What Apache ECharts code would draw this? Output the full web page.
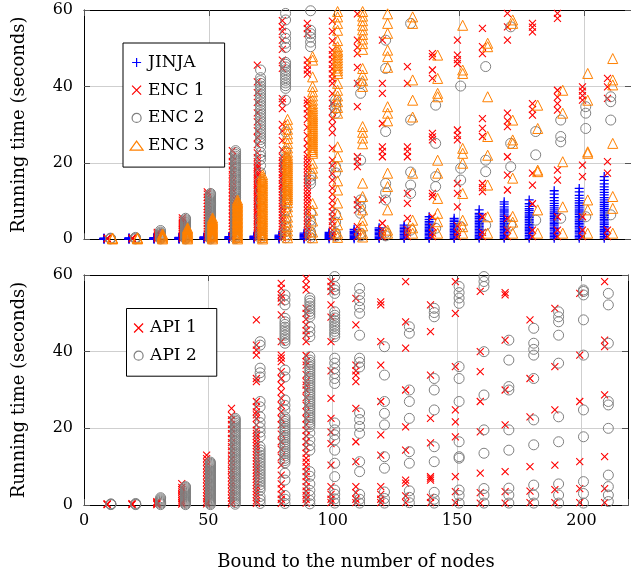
<!DOCTYPE html>
<html><head><meta charset="utf-8">
<script src="https://cdn.jsdelivr.net/npm/echarts@6/dist/echarts.min.js"></script>
<style>html,body{margin:0;padding:0;background:#fff}#c{width:631px;height:576px}</style>
</head><body><div id="c"></div>
<script>
const bounds = [10,20,30,40,50,60,70,80,90,100,110,120,130,140,150,160,170,180,190,200,210];
const xTicks = [0,50,100,150,200];
const yTicks = [0,20,40,60];

const JINJA = [
[0.05,0.1,0.15,0.2,0.25,0.3],
[0.05,0.1,0.15,0.2,0.25,0.3,0.35],
[0.05,0.1,0.2,0.25,0.3,0.35,0.4],
[0.05,0.1,0.2,0.3,0.35,0.4,0.5],
[0.1,0.2,0.3,0.4,0.5,0.6],
[0.1,0.2,0.3,0.45,0.6,0.7],
[0.1,0.25,0.4,0.55,0.7,0.85],
[0.1,0.3,0.5,0.7,0.9,1.1],
[0.1,0.3,0.55,0.8,1.05,1.3,1.6],
[0.15,0.4,0.7,0.95,1.2,1.5,1.8],
[0.15,0.45,0.8,1.1,1.45,1.8,2.1,2.6],
[0.2,0.5,0.85,1.2,1.55,1.9,2.3,2.6,3.0],
[0.2,0.55,0.9,1.3,1.7,2.05,2.4,2.8,3.2,3.7],
[0.2,0.5,0.9,1.25,1.6,2.0,2.35,2.7,3.1,3.5,3.9,4.3,4.7,5.2,5.9],
[0.2,0.55,0.9,1.3,1.7,2.1,2.5,2.9,3.3,3.7,4.1,4.6,5.0,5.5],
[0.25,0.6,1.0,1.4,1.8,2.2,2.6,3.0,3.4,3.8,4.2,4.6,5.0,5.5,5.9,6.4,6.8,7.7],
[0.25,0.6,1.0,1.4,1.8,2.2,2.6,3.0,3.4,3.8,4.2,4.7,5.1,5.5,6.0,6.4,6.9,7.4,7.9,8.5,9.2,9.8],
[0.25,0.65,1.05,1.5,1.9,2.3,2.7,3.1,3.5,3.9,4.4,4.8,5.2,5.7,6.1,6.6,7.0,7.5,8.0,8.6,9.3,10.3],
[0.3,0.7,1.1,1.5,1.9,2.4,2.8,3.2,3.7,4.1,4.5,5.0,5.4,5.9,6.3,6.8,7.2,7.7,8.2,8.8,9.4,10.1,10.9,11.8,12.7],
[0.3,0.7,1.1,1.6,2.0,2.4,2.9,3.3,3.8,4.2,4.7,5.1,5.6,6.0,6.5,6.9,7.4,7.9,8.4,8.9,9.5,10.1,10.8,11.5,12.4,13.3],
[0.3,0.7,1.2,1.6,2.1,2.5,3.0,3.4,3.9,4.3,4.8,5.2,5.7,6.2,6.6,7.1,7.6,8.1,8.6,9.1,9.7,10.3,10.9,11.6,12.3,13.0,13.7,14.5,15.4,16.4]
];

const ENC1 = [
[0.1,0.2,0.3],
[0.1,0.25,0.4],
[0.1,0.4,0.7,1.0,1.4,1.8],
[0.2,0.6,1.0,1.5,2.0,2.5,3.0,3.5,4.0,4.5,5.0,5.6],
[0.2,0.8,1.4,2.1,2.8,3.5,4.2,4.9,5.6,6.3,7.0,7.8,8.6,9.4,10.2,11.0,11.8,12.4],
[0.3,1.0,1.8,2.6,3.4,4.2,5.0,5.9,6.8,7.7,8.6,9.5,10.4,11.3,12.2,13.1,14.0,15.0,16.0,17.0,18.1,19.2,20.4,21.6,23.2],
[0.3,0.9,1.5,2.2,2.7,3.3,3.9,4.6,5.1,5.7,6.4,6.9,7.5,8.2,8.7,9.3,9.9,10.6,11.1,11.7,12.4,12.9,13.5,14.2,14.7,15.3,15.9,16.6,17.1,17.7,18.4,18.9,19.5,20.3,21.4,22.6,24.8,26.6,28.4,30.7,33.1,35.8,38.4,41.2,45.6],
[0.4,1.1,1.9,2.6,3.4,4.1,4.9,5.6,6.4,7.1,7.9,8.6,9.4,10.1,10.9,11.6,12.4,13.1,13.9,14.6,15.4,16.1,16.9,17.6,18.4,19.1,19.9,20.6,21.5,23.4,25.8,28.3,30.1,34.2,35.9,36.8,44.7,46.9,49.7,52.1,54.4,55.6,57.2],
[0.4,1.3,2.2,3.1,4.0,4.9,5.8,6.7,7.6,8.5,9.4,10.3,11.2,12.1,13.0,13.9,14.8,15.7,16.6,17.5,18.4,19.3,20.2,21.1,22.0,23.6,25.2,27.1,29.3,31.4,32.9,34.1,35.6,36.4,43.2,44.3,45.6,46.9,53.8,55.1,56.5],
[0.5,1.4,2.4,3.5,4.6,5.9,7.2,8.6,10.1,11.8,13.4,15.5,17.2,19.3,20.7,23.8,27.9,29.8,31.6,33.4,35.6,38.1,40.8,42.0,43.3,44.6,45.8,47.1,48.3,49.5,51.9,54.4,57.1],
[0.7,1.9,3.3,7.7,9.1,10.3,19.0,20.4,21.6,34.7,40.8,45.0,48.6,50.2,52.1,59.0],
[0.6,1.6,2.5,4.2,10.3,21.6,23.0,24.2,30.3,38.2,40.8,52.1],
[0.7,1.7,2.6,5.5,9.4,12.0,21.6,23.0,24.2,40.8,45.2],
[0.7,1.6,3.3,5.9,11.2,12.0,26.0,26.8,27.7,42.1,44.3,47.8,48.6],
[0.7,1.8,3.5,8.5,12.0,14.6,26.0,27.2,28.6,46.0,47.0,48.2,52.1],
[0.7,1.8,5.9,12.5,13.5,14.6,26.9,29.0,31.6,48.6,50.4,55.2],
[0.7,2.4,5.5,12.9,16.8,21.6,29.5,31.0,33.0,52.1,55.6,59.1],
[0.7,2.4,9.3,14.2,17.3,32.5,34.0,35.5,54.3,55.5,56.5],
[0.7,2.4,5.9,15.5,18.1,33.8,35.5,37.2,39.0,57.8,59.1],
[0.7,2.4,5.9,16.4,19.4,36.4,37.6,38.8,39.9],
[0.7,2.4,17.3,20.3,36.9,39.9,42.1]
];

const ENC2 = [
[0.1,0.2,0.3],
[0.1,0.3,0.5],
[0.1,0.4,0.7,1.0,1.3,1.6,1.9,2.3],
[0.1,0.35,0.6,0.9,1.2,1.45,1.75,2.0,2.3,2.6,2.85,3.15,3.4,3.7,4.0,4.3,4.55,4.85,5.15,5.5],
[0.1,0.4,0.7,0.95,1.25,1.55,1.85,2.1,2.4,2.7,3.0,3.3,3.55,3.85,4.15,4.45,4.75,5.0,5.3,5.6,5.9,6.2,6.45,6.75,7.05,7.35,7.65,7.9,8.2,8.5,8.8,9.1,9.35,9.65,9.95,10.25,10.55,10.8,11.1,11.4,11.7,12.0],
[0.2,0.6,1.05,1.5,1.95,2.4,2.85,3.3,3.75,4.2,4.65,5.1,5.55,6.0,6.45,6.9,7.35,7.8,8.25,8.7,9.15,9.6,10.05,10.5,10.95,11.4,11.85,12.3,12.75,13.2,13.65,14.1,14.55,15.0,15.45,15.9,16.35,16.8,17.25,17.7,18.15,18.6,19.05,19.5,19.95,20.4,20.85,21.3,21.75,22.2,22.7,23.2],
[0.3,0.9,1.6,3.0,4.4,5.9,8.6,10.4,12.8,15.1,17.4,19.3,20.9,21.8,22.7,24.2,25.3,26.1,26.8,27.5,28.2,28.9,29.6,30.3,31.0,31.7,32.4,33.1,33.8,34.5,35.2,35.9,36.6,37.3,38.0,38.7,39.4,40.1,40.8,41.5,42.3,44.3],
[0.4,1.2,2.0,3.5,5.2,7.4,9.4,10.3,11.5,12.6,15.4,18.3,19.9,21.2,23.0,28.1,36.4,39.5,40.2,40.9,41.6,42.3,43.0,43.7,44.4,45.1,45.8,46.3,50.2,51.3,52.6,53.9,57.4,59.1],
[0.4,1.1,1.9,3.6,5.0,6.8,14.6,15.5,16.5,50.4,51.6,52.9,53.8,54.7,59.8],
[0.8,1.6,4.5,6.5,17.4,19.0,33.0,34.2,35.4,36.4],
[0.9,1.6,6.8,8.5,10.3,20.7,38.2,40.8],
[0.9,1.8,10.3,12.2,14.6,28.2,44.7,52.1],
[2.4,12.0,14.2,17.6,31.2,56.5],
[2.9,13.8,16.4,25.1,35.1],
[3.3,15.5,18.6,40.1],
[3.7,17.7,20.7,45.2],
[3.7,19.0,25.1,55.6],
[5.0,22.1,28.2],
[5.5,25.5,26.9,31.2],
[5.9,29.0,33.0,34.7],
[6.4,31.2,36.0,37.3]
];

const ENC3 = [
[0.1,0.2,0.35],
[0.1,0.25,0.4],
[0.1,0.35,0.6,0.85,1.1,1.4],
[0.1,0.35,0.6,0.85,1.1,1.35,1.6,1.85,2.1,2.4,2.7,3.0],
[0.1,0.4,0.7,1.0,1.3,1.6,1.9,2.2,2.5,2.8,3.1,3.4,3.7,4.0,4.3,4.6,4.9,5.2,5.6],
[0.1,0.45,0.8,1.15,1.5,1.85,2.2,2.55,2.9,3.25,3.6,3.95,4.3,4.65,5.0,5.35,5.7,6.05,6.4,6.75,7.1,7.45,7.8,8.15,8.5,8.85,9.2,9.55,9.9,10.3],
[0.1,0.5,0.95,1.4,1.85,2.3,2.75,3.2,3.65,4.1,4.55,5.0,5.45,5.9,6.35,6.8,7.25,7.7,8.15,8.6,9.05,9.5,9.95,10.4,10.85,11.3,11.75,12.2,12.65,13.1,13.55,14.0,14.45,14.9,15.35,15.8,16.3,16.9],
[0.4,1.2,2.2,3.3,4.5,5.8,7.2,8.5,9.6,10.4,10.9,11.4,11.9,12.4,12.9,13.4,13.9,14.4,14.9,15.4,15.9,16.4,16.9,17.4,17.9,18.4,18.9,19.4,19.9,20.4,20.9,21.4,22.0,22.8,23.9,25.1,26.4,27.6,28.8,30.1,31.4],
[0.4,1.9,4.8,7.6,9.4,17.3,18.6,19.9,22.5,23.0,23.5,24.0,24.5,25.0,25.5,26.0,26.5,27.0,27.5,28.0,28.5,29.0,29.5,30.0,30.5,31.0,31.5,32.0,32.5,33.0,33.6,34.2,34.8,35.5,36.4,37.5,38.6,40.0,42.5,46.9,47.8],
[0.5,1.6,3.8,6.5,9.5,12.9,15.3,19.0,21.6,24.2,33.0,34.5,36.0,37.5,39.0,40.8,43.4,44.1,44.8,45.5,46.2,46.9,47.6,48.3,49.0,49.5,50.4,52.0,54.7,56.5,58.2,59.6],
[0.6,1.6,3.5,5.0,7.7,11.2,14.7,25.0,26.5,28.0,29.5,40.0,41.5,43.0,44.7,49.7,51.2,52.4,53.6,54.8,56.0,57.2,58.4,59.6],
[1.6,2.4,7.7,13.8,17.3,31.0,33.0,34.7,45.0,47.8,49.5,53.9,56.5,59.0],
[1.6,3.0,5.0,17.3,32.0,36.4,41.7,56.5,58.2],
[1.6,4.6,6.8,10.7,17.3,20.7,37.3,38.2,42.1,48.2],
[1.6,3.3,5.0,12.0,19.9,22.5,23.8,43.4,44.3,56.0],
[1.6,5.9,14.2,22.0,26.9,37.3,50.4,51.3],
[1.6,4.5,6.0,16.0,25.1,26.0,31.2,56.5,57.4],
[1.6,7.7,17.7,18.1,29.0,35.1],
[1.6,8.5,20.3,33.0,39.0],
[1.6,7.7,10.3,22.5,22.9,36.4,43.4],
[1.6,8.1,11.2,25.1,40.4,41.7,47.3]
];

const API1 = [
[0.1,0.2,0.3],
[0.1,0.2,0.35],
[0.1,0.3,0.5,0.7,0.9],
[0.2,0.6,1.1,1.6,2.2,2.8,3.4,4.0,4.6,5.6],
[0.3,0.9,1.6,2.4,3.2,4.0,4.9,5.8,6.7,7.6,8.5,9.4,10.3,11.2,12.1,13.0],
[0.3,1.0,1.8,2.6,3.5,4.4,5.3,6.2,7.1,8.0,9.0,10.0,11.0,12.0,13.0,14.1,15.2,16.3,17.4,18.6,19.8,21.0,22.2,23.4,25.2],
[0.4,1.1,1.9,2.7,3.5,4.3,5.1,5.9,6.7,7.5,8.3,9.1,9.9,10.7,11.5,12.3,13.1,13.9,14.7,15.5,16.3,17.1,17.9,18.7,19.5,20.9,22.6,23.5,24.3,25.6,27.0,32.2,33.0,39.1,40.4,41.7,48.3],
[0.4,1.5,2.8,4.2,5.5,7.8,10.4,12.5,14.5,16.5,18.5,20.9,22.5,24.3,26.0,27.8,29.5,31.3,33.0,34.8,37.4,38.3,39.1,42.6,49.6,53.0,54.0,54.8,56.5,57.8],
[0.5,1.5,2.5,3.6,4.8,6.1,7.4,8.7,10.0,11.2,12.2,13.5,15.0,16.5,18.0,19.5,20.9,22.5,24.3,26.0,28.0,30.0,31.3,32.2,34.0,36.5,37.4,39.0,42.6,44.3,45.5,47.0,48.5,50.0,51.3,56.1,57.5,59.1],
[0.6,1.5,2.8,4.8,10.4,16.0,19.0,22.6,27.8,35.0,42.6,49.0,52.2,55.7,57.0,58.3],
[0.6,1.5,3.2,4.8,11.3,16.5,25.2,32.2,33.9,35.0,36.5,47.0,53.9],
[0.6,1.5,2.8,4.8,13.0,18.3,27.0,36.5,42.6,52.2,53.0],
[0.6,2.4,5.7,6.5,14.3,20.4,30.0,40.9,47.8,58.3],
[0.6,2.0,6.5,7.0,7.4,16.2,22.6,33.9,45.2,52.2],
[0.6,3.5,7.4,17.8,21.7,24.8,36.1,50.0,58.3],
[0.5,3.2,8.3,19.1,27.0,34.8,40.0,55.7],
[0.5,3.5,8.7,20.9,30.0,43.0,54.8,55.4],
[0.6,3.6,10.0,23.0,33.0,48.3],
[0.6,4.0,10.4,24.8,36.1,51.3],
[0.6,4.3,11.3,27.0,39.1,55.2],
[0.6,4.3,12.6,28.7,41.3,43.0,58.3]
];

const API2 = [
[0.1,0.2,0.3],
[0.1,0.2,0.4],
[0.1,0.4,0.7,1.0,1.3,1.6,1.9],
[0.1,0.4,0.7,0.95,1.25,1.55,1.85,2.15,2.45,2.75,3.05,3.35,3.65,3.95,4.25,4.55,4.8],
[0.1,0.4,0.7,1.0,1.3,1.6,1.9,2.2,2.5,2.8,3.1,3.4,3.7,4.0,4.3,4.6,4.9,5.2,5.5,5.8,6.1,6.4,6.7,7.0,7.3,7.6,7.9,8.2,8.5,8.8,9.1,9.4,9.7,10.0,10.3,10.6,10.9,11.2],
[0.2,0.65,1.1,1.55,2.0,2.45,2.9,3.35,3.8,4.25,4.7,5.15,5.6,6.05,6.5,6.95,7.4,7.85,8.3,8.75,9.2,9.65,10.1,10.55,11.0,11.45,11.9,12.35,12.8,13.25,13.7,14.15,14.6,15.05,15.5,15.95,16.4,16.85,17.3,17.75,18.2,18.65,19.1,19.55,20.0,20.45,20.9,21.35,21.8,22.2,22.6],
[0.4,1.3,2.2,3.9,4.6,5.3,6.0,6.7,7.4,8.1,8.8,9.5,10.2,10.9,11.6,12.3,13.0,13.7,14.4,15.2,17.8,19.0,20.2,21.5,23.0,25.6,27.0,33.4,34.5,35.7,41.7,42.6],
[0.4,1.5,2.5,6.5,8.3,11.0,11.6,12.2,12.8,13.4,14.0,14.6,15.2,15.8,16.4,17.0,17.6,18.2,18.8,19.4,20.0,20.6,21.2,21.8,22.4,23.0,24.8,26.0,27.4,33.4,35.2,42.2,42.9,43.6,44.3,45.0,45.7,46.4,47.1,47.8,48.7,52.2,53.5,54.8],
[0.3,1.2,2.5,3.8,5.5,7.5,8.7,14.3,15.5,17.0,18.8,20.4,21.0,21.6,22.2,22.8,23.4,24.0,24.6,25.2,25.8,26.4,27.0,27.6,28.2,28.8,29.4,30.0,30.6,31.2,31.8,32.4,33.0,33.6,34.2,34.8,35.4,36.0,36.6,37.2,37.8,38.7,43.9,45.2,46.5,49.1,49.8,50.5,51.2,51.9,52.6,53.3,54.0],
[0.5,1.6,2.8,3.9,7.4,10.9,14.3,17.0,18.3,19.6,21.4,31.7,33.0,34.3,35.6,37.0,38.3,43.9,44.6,45.3,46.0,46.7,47.4,48.1,48.8,49.5,50.4,55.2,56.1,57.0,59.6],
[0.5,1.5,2.8,8.7,11.3,18.7,20.5,22.3,24.0,36.0,37.2,38.3,44.3,50.0,51.6,53.3,54.9,56.5],
[0.5,1.7,3.4,9.6,12.6,20.9,23.9,27.0,33.9,41.3],
[0.6,2.0,3.7,10.9,13.9,22.6,27.0,30.0,44.8,46.5],
[0.5,1.5,3.3,11.3,15.2,24.8,30.0,33.0,49.1,50.2,51.3],
[0.5,2.5,3.9,12.2,12.6,16.5,27.0,33.0,36.1,52.6,54.0,55.4,57.0],
[0.5,2.6,4.3,13.5,19.6,28.7,40.0,57.0,58.3,59.6],
[0.5,2.6,4.4,14.3,19.6,30.0,30.9,37.8,43.0],
[0.5,2.6,5.2,15.7,22.2,33.0,39.1,40.6,42.2,46.1],
[0.5,2.6,5.5,16.5,23.0,37.0,44.3,47.8,49.1,50.4],
[0.5,3.0,6.1,17.8,24.8,39.1,48.3,54.8,55.7,56.1],
[0.9,2.6,4.8,7.8,20.0,26.1,27.0,42.2,52.2,55.2]
];

const FONT = 'DejaVu Serif';
const X_MAX = 218.7;
// small horizontal dodge of each series around its bound (as in the original figure)
const SHIFT = {JINJA:-2, ENC1:-0.7, ENC2:0.6, ENC3:1.4, API1:-0.7, API2:0.8};

function pts(lists, shift) {
  const out = [];
  lists.forEach((vals, i) => vals.forEach(v => out.push([bounds[i] + shift, v])));
  return out;
}

const PLUS = 'path://M5,0L5,10M0,5L10,5';
const CROSS = 'path://M0,0L10,10M10,0L0,10';
const TRANSP = 'rgba(0,0,0,0)';

function xAx(grid, pos, withLabels, name) {
  return {
    type: 'value', gridIndex: grid, position: pos, min: 0, max: X_MAX, interval: 50,
    axisLine: {show: true, onZero: false, lineStyle: {color: '#000', width: 1}},
    axisTick: {show: true, inside: true, length: 6, lineStyle: {color: '#555'}},
    axisLabel: {show: withLabels, margin: 8, fontFamily: FONT, fontSize: 16, color: '#000',
      formatter: v => xTicks.includes(v) ? String(v) : ''},
    splitLine: {show: pos === 'bottom', lineStyle: {color: '#cfcfcf', width: 1}},
    name: name || '', nameLocation: 'middle', nameGap: 48,
    nameTextStyle: {fontFamily: FONT, fontSize: 18, color: '#000'}
  };
}
function yAx(grid, pos, withLabels, name) {
  return {
    type: 'value', gridIndex: grid, position: pos, min: 0, max: 60, interval: 20,
    axisLine: {show: true, onZero: false, lineStyle: {color: '#000', width: 1}},
    axisTick: {show: true, inside: true, length: 6, lineStyle: {color: '#555'}},
    axisLabel: {show: withLabels, margin: 11, fontFamily: FONT, fontSize: 16, color: '#000',
      formatter: v => yTicks.includes(v) ? String(v) : ''},
    splitLine: {show: pos === 'left', lineStyle: {color: '#cfcfcf', width: 1}},
    name: name || '', nameLocation: 'middle', nameGap: 56,
    nameTextStyle: {fontFamily: FONT, fontSize: 18, color: '#000'}
  };
}

function sc(name, lists, shift, xi, yi, symbol, size, color, bw) {
  return {
    name, type: 'scatter', xAxisIndex: xi, yAxisIndex: yi, data: pts(lists, shift),
    symbol, symbolSize: size, clip: false, silent: true,
    itemStyle: {color: TRANSP, borderColor: color, borderWidth: bw, opacity: 1},
    emphasis: {disabled: true}
  };
}

const legendBase = {
  orient: 'vertical', itemWidth: 13, itemHeight: 9, itemGap: 10.7,
  borderColor: '#000', borderWidth: 1, backgroundColor: '#fff', borderRadius: 0,
  textStyle: {fontFamily: FONT, fontSize: 17, color: '#000'},
  itemStyle: {borderWidth: 1.2}, selectedMode: false
};

const option = {
  animation: false,
  backgroundColor: '#fff',
  grid: [
    {left: 84, top: 10, width: 548, height: 229.3, containLabel: false},
    {left: 84, top: 275, width: 548, height: 230, containLabel: false}
  ],
  xAxis: [
    xAx(0, 'bottom', false), xAx(0, 'top', false),
    xAx(1, 'bottom', true, 'Bound to the number of nodes'), xAx(1, 'top', false)
  ],
  yAxis: [
    yAx(0, 'left', true, 'Running time (seconds)'), yAx(0, 'right', false),
    yAx(1, 'left', true, 'Running time (seconds)'), yAx(1, 'right', false)
  ],
  legend: [
    Object.assign({}, legendBase, {data: ['JINJA', 'ENC 1', 'ENC 2', 'ENC 3'], left: 123, top: 43, padding: [11, 20, 13, 6.5]}),
    Object.assign({}, legendBase, {data: ['API 1', 'API 2'], left: 126.5, top: 308.5, padding: [11, 20, 12, 7]})
  ],
  series: [
    sc('JINJA', JINJA, SHIFT.JINJA, 0, 0, PLUS, 9, '#0000ff', 1.3),
    sc('ENC 1', ENC1, SHIFT.ENC1, 0, 0, CROSS, 7, '#ff0000', 1.1),
    sc('ENC 2', ENC2, SHIFT.ENC2, 0, 0, 'circle', 10, '#808080', 1),
    sc('ENC 3', ENC3, SHIFT.ENC3, 0, 0, 'triangle', 10, '#ff8000', 1),
    sc('API 1', API1, SHIFT.API1, 2, 2, CROSS, 7, '#ff0000', 1.1),
    sc('API 2', API2, SHIFT.API2, 2, 2, 'circle', 10, '#808080', 1)
  ]
};

const chart = echarts.init(document.getElementById('c'), null, {renderer: 'canvas'});
chart.setOption(option);
</script>
</body></html>
